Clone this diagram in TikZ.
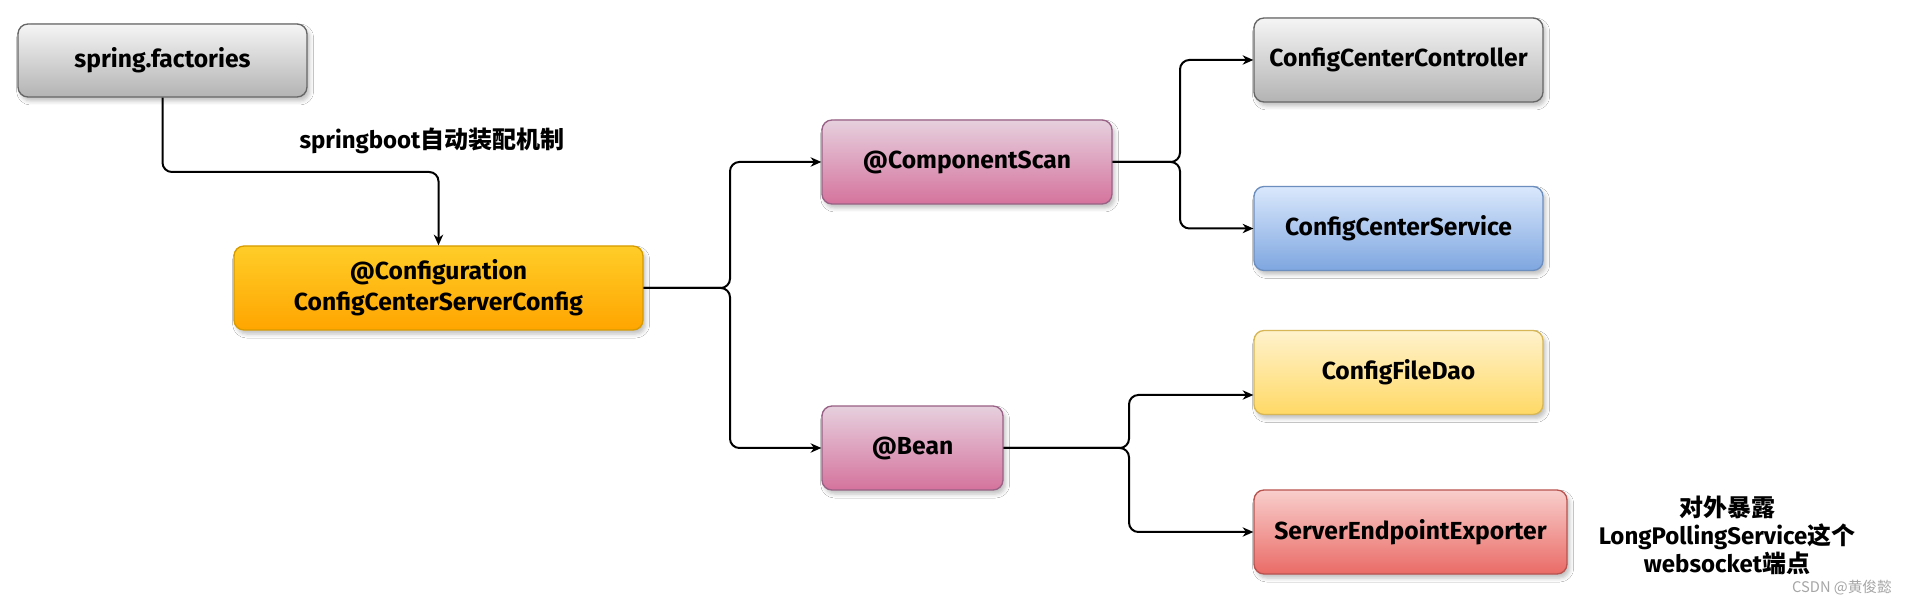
\documentclass[tikz,border=0pt]{standalone}
\usepackage{fontspec}
\setmainfont{Fira Sans}
\newfontfamily\cjk{Noto Sans CJK SC}
\newcommand{\zh}[1]{{\cjk #1}}
\usetikzlibrary{arrows.meta,shadows.blur,calc}
\definecolor{grayT}{HTML}{F5F5F5}\definecolor{grayB}{HTML}{B3B3B3}\definecolor{grayD}{HTML}{666666}
\definecolor{orT}{HTML}{FFCD28}\definecolor{orB}{HTML}{FFA500}\definecolor{orD}{HTML}{D79B00}
\definecolor{pkT}{HTML}{E6D0DE}\definecolor{pkB}{HTML}{D5739D}\definecolor{pkD}{HTML}{996185}
\definecolor{blT}{HTML}{DAE8FC}\definecolor{blB}{HTML}{7EA6E0}\definecolor{blD}{HTML}{6C8EBF}
\definecolor{ylT}{HTML}{FFF2CC}\definecolor{ylB}{HTML}{FFD966}\definecolor{ylD}{HTML}{D6B656}
\definecolor{rdT}{HTML}{F8CECC}\definecolor{rdB}{HTML}{EA6B66}\definecolor{rdD}{HTML}{B85450}
\begin{document}
\begin{tikzpicture}[x=0.75pt,y=-0.75pt,
  box/.style={rectangle, rounded corners=7.5pt, draw, line width=1pt, inner sep=0pt,
    minimum height=63pt, align=center,
    font=\bfseries\fontsize{18.5}{23}\selectfont,
    blur shadow={shadow xshift=2pt, shadow yshift=-3pt, shadow blur radius=3pt, shadow opacity=25}},
  graybox/.style={box, draw=grayD, top color=grayT, bottom color=grayB},
  orbox/.style={box, draw=orD, top color=orT, bottom color=orB},
  pkbox/.style={box, draw=pkD, top color=pkT, bottom color=pkB},
  blbox/.style={box, draw=blD, top color=blT, bottom color=blB},
  ylbox/.style={box, draw=ylD, top color=ylT, bottom color=ylB},
  rdbox/.style={box, draw=rdD, top color=rdT, bottom color=rdB},
  lbl/.style={inner sep=0pt, align=center, font=\bfseries\fontsize{18}{21}\selectfont},
  conn/.style={line width=1.5pt, rounded corners=7pt, -{Stealth[length=8pt,width=7pt,inset=2.5pt]}}
]
\useasboundingbox (0,0) rectangle (1906,605);
\fill[white] (0,0) rectangle (1906,605);

\node[graybox, minimum width=216.75pt, minimum height=54.75pt] (sf) at (162.5,60.5) {spring.factories};
\node[orbox, minimum width=306.75pt] (cfg) at (438.5,288) {@Configuration\\ConfigCenterServerConfig};
\node[pkbox, minimum width=217.5pt] (cs) at (967,162) {@ComponentScan};
\node[pkbox, minimum width=135.75pt] (bean) at (912.5,448) {@Bean};
\node[graybox, minimum width=216.75pt] (ctl) at (1398.5,60) {ConfigCenterController};
\node[blbox, minimum width=216.75pt] (svc) at (1398.5,228.5) {ConfigCenterService};
\node[ylbox, minimum width=216.75pt] (fd) at (1398.5,372.5) {ConfigFileDao};
\node[rdbox, minimum width=234.75pt] (see) at (1410.5,532) {ServerEndpointExporter};

\node[lbl] (lab) at (432,141) {springboot\zh{自动装配机制}};
\node[lbl] (note) at (1727,535) {\zh{对外暴露}\\LongPollingService\zh{这个}\\websocket\zh{端点}};
\node[inner sep=0pt, text=gray!70, font=\cjk\fontsize{11}{13}\selectfont] (wm) at (1842,588) {CSDN @黄俊懿};

\coordinate (j1) at (438.5,172);
\coordinate (k1) at (730,288);
\coordinate (k2) at (1180,162);
\coordinate (k3) at (1129,448);
\coordinate (fdin) at ($(fd.west)+(0,22.5)$);

\draw[conn] (sf.south) |- (j1) -- (cfg.north);
\draw[conn] (cfg.east) -- (k1) |- (cs.west);
\draw[conn] (cfg.east) -- (k1) |- (bean.west);
\draw[conn] (cs.east) -- (k2) |- (ctl.west);
\draw[conn] (cs.east) -- (k2) |- (svc.west);
\draw[conn] (bean.east) -- (k3) |- (fdin);
\draw[conn] (bean.east) -- (k3) |- (see.west);
\end{tikzpicture}
\end{document}
